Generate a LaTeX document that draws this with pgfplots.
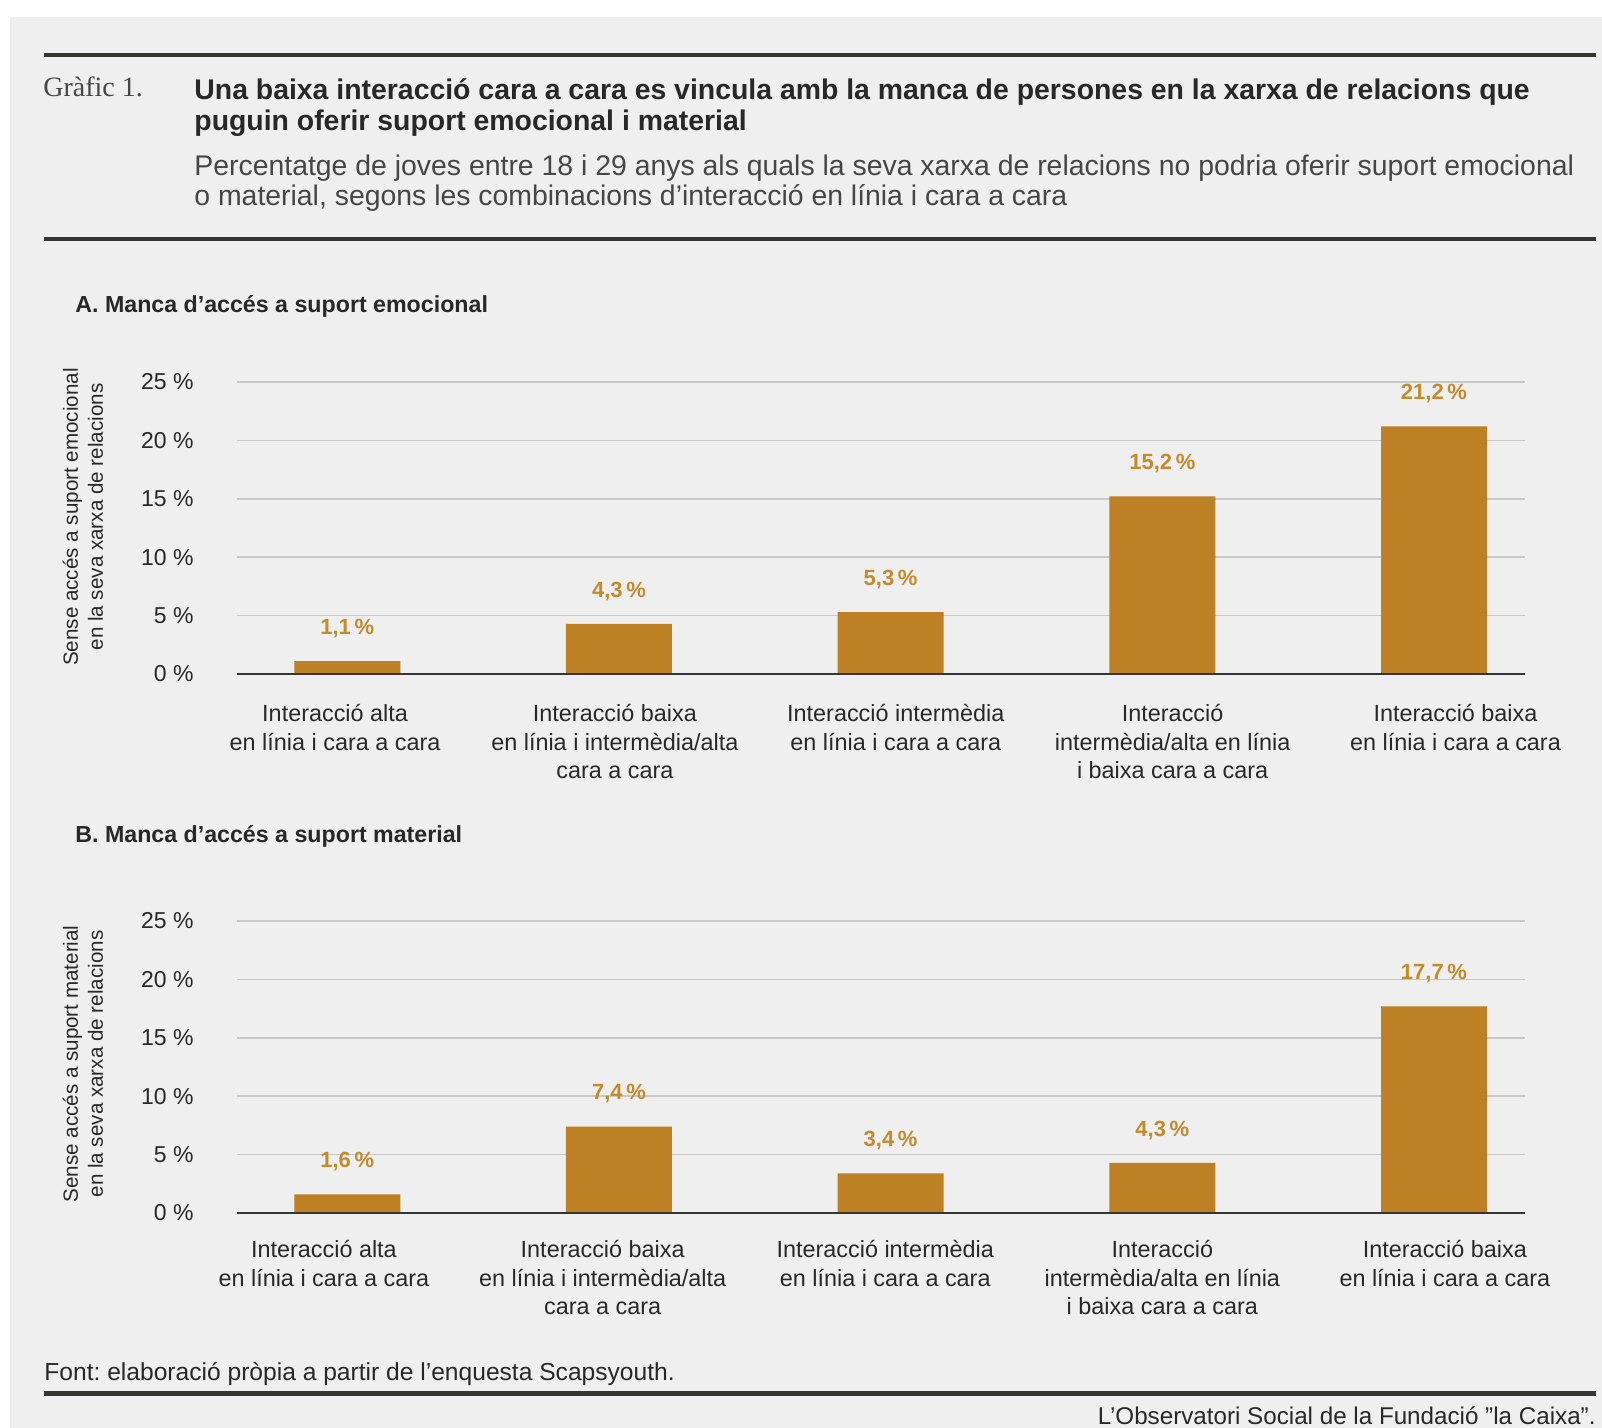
\documentclass[border=0pt]{standalone}
\usepackage{pgfplots}
\pgfplotsset{compat=1.18}
\usepackage{fontspec}
\setmainfont{Liberation Sans}
\newfontfamily\seriffont{Liberation Serif}
\definecolor{bg}{RGB}{239,239,239}
\definecolor{rulec}{RGB}{55,53,50}
\definecolor{barc}{RGB}{190,128,36}
\definecolor{valc}{RGB}{196,138,44}
\definecolor{txt}{RGB}{40,40,40}
\definecolor{subtxt}{RGB}{70,70,70}
\definecolor{gridc}{RGB}{200,200,198}
\frenchspacing

\pgfplotsset{
 panel/.style={
   anchor=south west, scale only axis, width=644pt, height=146pt,
   ybar, bar width=53pt, xmin=-0.406, xmax=4.335, ymin=0, ymax=25,
   ytick={0,5,10,15,20,25},
   yticklabels={0 \%,5 \%,10 \%,15 \%,20 \%,25 \%},
   ymajorgrids, grid style={gridc, line width=0.8pt},
   axis line style={draw=none}, major tick length=0pt,
   yticklabel style={anchor=east, inner sep=0pt, xshift=-21.5pt, font=\fontsize{11.5}{13}\selectfont, text=txt},
   xticklabel style={anchor=north, inner sep=0pt, align=center, font=\fontsize{11.7}{14.3}\selectfont, text=txt},
   xticklabels={{Interacció alta\\en línia i cara a cara},{Interacció baixa\\en línia i intermèdia/alta\\cara a cara},{Interacció intermèdia\\en línia i cara a cara},{Interacció\\intermèdia/alta en línia\\i baixa cara a cara},{Interacció baixa\\en línia i cara a cara}},
   nodes near coords={\pgfmathprintnumber[fixed,fixed zerofill,precision=1,use comma,assume math mode=true]{\pgfplotspointmeta}\,\%},
   every node near coord/.append style={anchor=south, inner sep=0pt, yshift=11.4pt, font=\bfseries\fontsize{11}{13}\selectfont, text=valc},
   clip=false,
 }
}

\begin{document}
\begin{tikzpicture}
\begin{scope}[x=0.5pt,y=-0.5pt]
\fill[white] (0,0) rectangle (1602,1428);
\fill[bg] (10,17) rectangle (1602,1428);
\draw[rulec, line width=2pt] (44,55) -- (1596,55);
\node[anchor=base west, inner sep=0pt, font=\seriffont\fontsize{14}{16}\selectfont, text=subtxt] at (43,97) {Gràfic 1.};
\node[anchor=base west, inner sep=0pt, font=\bfseries\fontsize{14.2}{16}\selectfont, text=txt] at (194,100) {Una baixa interacció cara a cara es vincula amb la manca de persones en la xarxa de relacions que};
\node[anchor=base west, inner sep=0pt, font=\bfseries\fontsize{14.2}{16}\selectfont, text=txt] at (194,131) {puguin oferir suport emocional i material};
\node[anchor=base west, inner sep=0pt, font=\fontsize{14.2}{16}\selectfont, text=subtxt] at (194,176) {Percentatge de joves entre 18 i 29 anys als quals la seva xarxa de relacions no podria oferir suport emocional};
\node[anchor=base west, inner sep=0pt, font=\fontsize{14.2}{16}\selectfont, text=subtxt] at (194,206) {o material, segons les combinacions d’interacció en línia i cara a cara};
\draw[rulec, line width=2pt] (44,239) -- (1596,239);
\node[anchor=base west, inner sep=0pt, font=\bfseries\fontsize{11.6}{14}\selectfont, text=txt] at (75,313) {A. Manca d’accés a suport emocional};
\node[anchor=base west, inner sep=0pt, font=\bfseries\fontsize{11.6}{14}\selectfont, text=txt] at (75,842) {B. Manca d’accés a suport material};
\node[rotate=90, align=center, inner sep=0pt, font=\fontsize{10.3}{12.5}\selectfont, text=txt] at (83,517) {Sense accés a suport emocional\\en la seva xarxa de relacions};
\node[rotate=90, align=center, inner sep=0pt, font=\fontsize{10.3}{12.5}\selectfont, text=txt] at (83,1064) {Sense accés a suport material\\en la seva xarxa de relacions};
\node[anchor=base west, inner sep=0pt, font=\fontsize{12.3}{14}\selectfont, text=txt] at (44,1380) {Font: elaboració pròpia a partir de l’enquesta Scapsyouth.};
\draw[rulec, line width=2.5pt] (44,1393) -- (1596,1393);
\node[anchor=base east, inner sep=0pt, font=\fontsize{12.1}{14}\selectfont, text=txt] at (1596,1424) {L’Observatori Social de la Fundació \symbol{"22}la Caixa\symbol{"22}.};
\end{scope}

\begin{axis}[panel, at={(118.5pt,-337pt)}, xtick={-0.045,0.985,2.019,3.038,4.079}, xticklabel style={yshift=-15pt}]
\addplot[fill=barc, draw=none] coordinates {(0,1.1) (1,4.3) (2,5.3) (3,15.2) (4,21.2)};
\draw[rulec, line width=1pt] (rel axis cs:0,0) -- (rel axis cs:1,0);
\end{axis}

\begin{axis}[panel, at={(118.5pt,-606.5pt)}, xtick={-0.086,0.94,1.98,3.0,4.04}, xticklabel style={yshift=-13.5pt}]
\addplot[fill=barc, draw=none] coordinates {(0,1.6) (1,7.4) (2,3.4) (3,4.3) (4,17.7)};
\draw[rulec, line width=1pt] (rel axis cs:0,0) -- (rel axis cs:1,0);
\end{axis}
\end{tikzpicture}
\end{document}
